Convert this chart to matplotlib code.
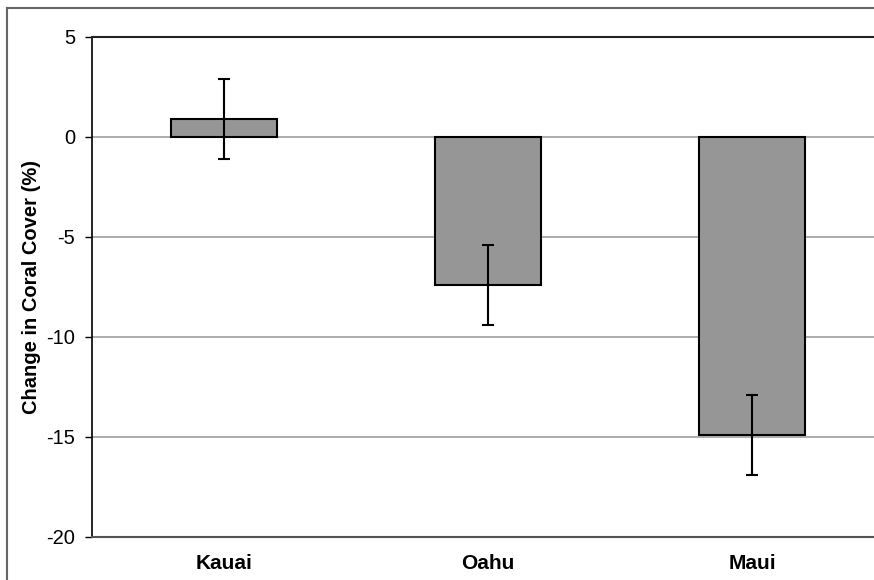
import numpy as np
import matplotlib.pyplot as plt
from matplotlib.lines import Line2D

islands = ['Kauai', 'Oahu', 'Maui']
change = [0.9, -7.4, -14.9]
err = [2.0, 2.0, 2.0]
yticks = [-20, -15, -10, -5, 0, 5]

plt.rcParams['font.family'] = ['Liberation Sans', 'DejaVu Sans']

fig = plt.figure(figsize=(8.74, 5.8), dpi=100)
ax = fig.add_axes([92/874, 43/580, 792/874, 500/580])

x = np.arange(len(islands))
ax.bar(x, change, width=0.4, color='#969696', edgecolor='black', linewidth=1.5, zorder=3)
ax.errorbar(x, change, yerr=err, fmt='none', ecolor='black', elinewidth=1.5,
            capsize=4.5, capthick=1.5, zorder=4)

ax.set_xlim(-0.5, 2.5)
ax.set_ylim(-20, 5)
ax.set_yticks(yticks)
ax.set_yticklabels([str(t) for t in yticks], fontsize=14.5)
ax.set_xticks(x)
ax.set_xticklabels(islands, fontsize=15, fontweight='bold')
ax.tick_params(axis='x', length=0, pad=12)
ax.tick_params(axis='y', length=5, width=1, pad=7)
ax.yaxis.grid(True, color='#a0a0a0', linewidth=1.2, zorder=0)
ax.set_axisbelow(True)

ax.spines['right'].set_visible(False)
ax.spines['top'].set_color('#222222')
ax.spines['top'].set_linewidth(1.5)
ax.spines['bottom'].set_color('#555555')
ax.spines['bottom'].set_linewidth(1.5)
ax.spines['left'].set_linewidth(1.2)

ax.set_ylabel('Change in Coral Cover (%)', fontsize=14.5, fontweight='bold', labelpad=4)

# outer chart frame
fig.add_artist(Line2D([7/874, 1.0], [1 - 8/580, 1 - 8/580], color='#666666', linewidth=1.5,
                      transform=fig.transFigure))
fig.add_artist(Line2D([7/874, 7/874], [0, 1 - 8/580], color='#666666', linewidth=1.5,
                      transform=fig.transFigure))

fig.savefig('out.png', dpi=100)
